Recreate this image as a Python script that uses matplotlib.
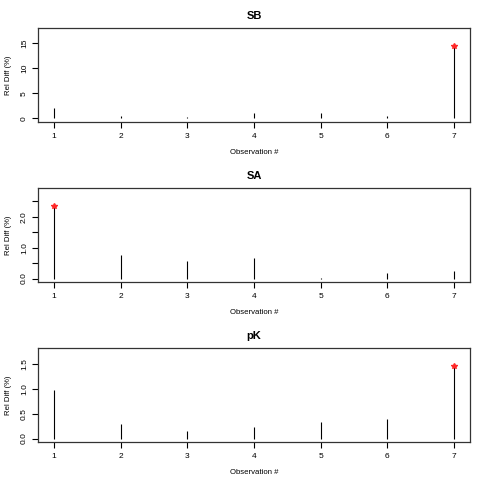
import matplotlib
matplotlib.use("Agg")
import matplotlib.pyplot as plt
import numpy as np

plt.rcParams['font.family'] = ['Liberation Sans', 'DejaVu Sans']

obs = [1, 2, 3, 4, 5, 6, 7]
titles = ["SB", "SA", "pK"]
sb_vals = [2.0, 0.53, 0.2, 1.1, 1.0, 0.4, 14.46]
sa_vals = [2.34, 0.76, 0.56, 0.68, 0.02, 0.18, 0.24]
pk_vals = [0.98, 0.30, 0.16, 0.235, 0.33, 0.39, 1.46]
series = [sb_vals, sa_vals, pk_vals]
yticks = [[0, 5, 10, 15], [0, 0.5, 1.0, 1.5, 2.0, 2.5], [0, 0.5, 1.0, 1.5]]
yticklabels = [["0", "5", "10", "15"],
               ["0.0", "", "1.0", "", "2.0", ""],
               ["0.0", "0.5", "1.0", "1.5"]]

fig = plt.figure(figsize=(4.8, 4.8), dpi=100)
W = H = 480.0
left, right = 38, 470
tops = [28, 188.3, 348.3]
height = 93.7

for i, (vals, title) in enumerate(zip(series, titles)):
    top = tops[i]
    ax = fig.add_axes([left / W, 1 - (top + height) / H, (right - left) / W, height / H])
    vals = np.array(vals)
    ymax = vals.max() * 1.2
    ax.vlines(obs, 0, vals, colors='black', linewidth=0.8)
    imax = int(np.argmax(vals))
    ax.plot(obs[imax], vals[imax], marker='*', color='#ff2a2a', markersize=4, linestyle='none')
    ax.set_xlim(1 - 0.24, 7 + 0.24)
    ax.set_ylim(-0.04 * ymax, 1.04 * ymax)
    ax.set_xticks(obs)
    ax.set_xticklabels([str(o) for o in obs], fontsize=6)
    ax.set_yticks(yticks[i])
    ax.set_yticklabels(yticklabels[i], fontsize=6, rotation=90, va='center')
    ax.tick_params(axis='both', direction='out', length=4, width=0.8, pad=3.8, colors='black')
    ax.tick_params(axis='y', pad=3.3)
    for s in ax.spines.values():
        s.set_linewidth(0.9)
        s.set_color('#333333')
    ax.set_title(title, fontsize=8, fontweight='bold', pad=6.5)
    ax.set_xlabel("Observation #", fontsize=5.6, labelpad=6.5)
    ax.set_ylabel("Rel Diff (%)", fontsize=5.6, labelpad=6.5)

fig.savefig("out.png", dpi=100)
